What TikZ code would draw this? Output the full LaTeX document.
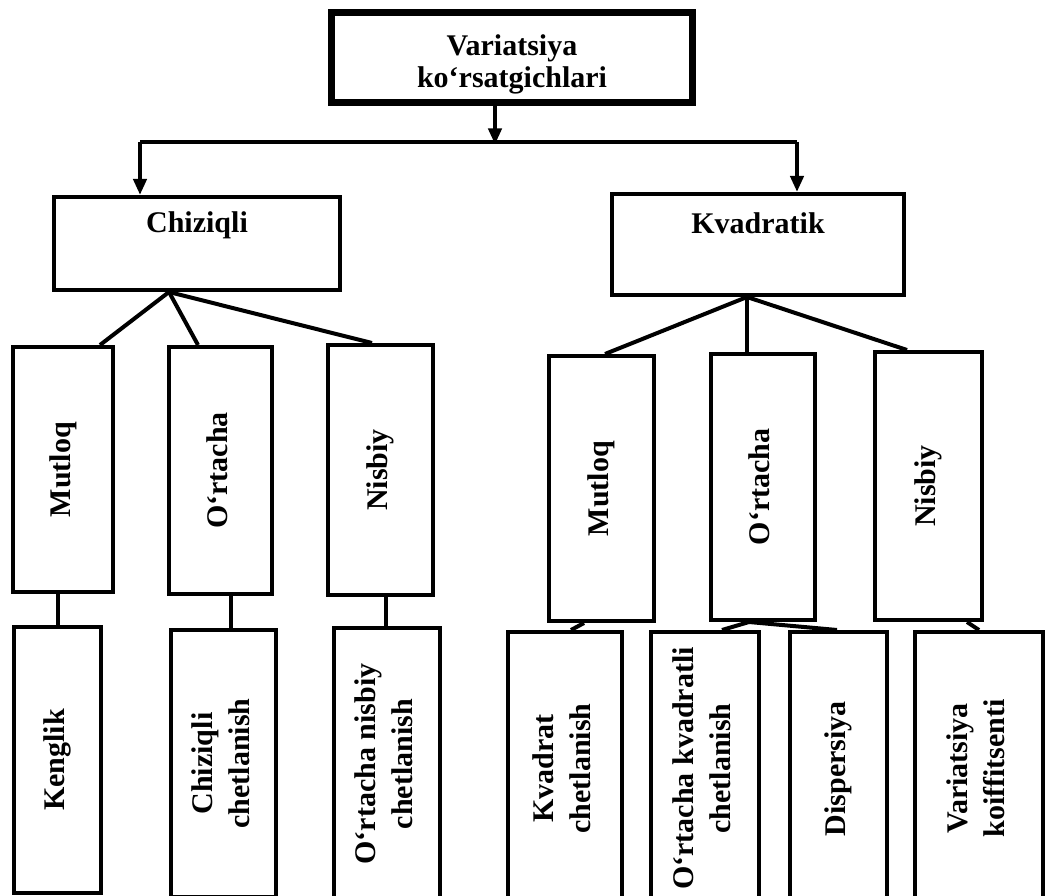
\documentclass[tikz,border=0pt]{standalone}
\usepackage{fontspec}
\setmainfont{Liberation Serif}
\usetikzlibrary{calc, arrows.meta}
\newcommand{\uptext}[1]{\rotatebox{90}{\begin{tabular}{@{}c@{}}#1\end{tabular}}}

\begin{document}
\begin{tikzpicture}[x=1pt, y=-1pt,
  box/.style={draw, line width=4pt, inner sep=0pt, font=\fontsize{30}{37}\selectfont\bfseries},
  head/.style={anchor=north, inner sep=0pt, font=\fontsize{30}{32}\selectfont\bfseries},
  link/.style={line width=4pt},
  arr/.style={line width=4pt, -{Triangle[length=16pt, width=13pt]}}]
\useasboundingbox (0,0) rectangle (1054,896);

%top box
\node[box, line width=7pt, minimum width=361pt, minimum height=90pt,
  label={[head, align=center, anchor=center, yshift=-6pt]center:Variatsiya\\ko‘rsatgichlari}] (var) at (512,58) {};

%the two kinds
\node[box, minimum width=286pt, minimum height=93pt,
  label={[head, yshift=-16pt]north:Chiziqli}] (chiz) at (197,243.5) {};
\node[box, minimum width=292pt, minimum height=101pt,
  label={[head, yshift=-20pt]north:Kvadratik}] (kvad) at (758,244.5) {};

%second row
\node[box, minimum width=100pt, minimum height=245pt] (mut1) at (63,469.5) {\uptext{Mutloq}};
\node[box, minimum width=103pt, minimum height=247pt] (ort1) at (220.5,470.5) {\uptext{O‘rtacha}};
\node[box, minimum width=105pt, minimum height=250pt] (nis1) at (380.5,470) {\uptext{Nisbiy}};
\node[box, minimum width=105pt, minimum height=265pt] (mut2) at (601,488.5) {\uptext{Mutloq}};
\node[box, minimum width=104pt, minimum height=266pt] (ort2) at (762.5,487) {\uptext{O‘rtacha}};
\node[box, minimum width=107pt, minimum height=268pt] (nis2) at (928.5,486) {\uptext{Nisbiy}};

%bottom row
\node[box, minimum width=87pt, minimum height=266pt] (keng) at (57.5,760) {\uptext{Kenglik}};
\node[box, minimum width=105pt, minimum height=267pt] (chch) at (223.5,763.5) {\uptext{Chiziqli\\chetlanish}};
\node[box, minimum width=106pt, minimum height=272pt] (onch) at (387,764) {\uptext{O‘rtacha nisbiy\\chetlanish}};
\node[box, minimum width=114pt, minimum height=273pt] (kvch) at (565,768.5) {\uptext{Kvadrat\\chetlanish}};
\node[box, minimum width=108pt, minimum height=273pt] (okch) at (704.5,768.5) {\uptext{O‘rtacha kvadratli\\chetlanish}};
\node[box, minimum width=97pt, minimum height=273pt] (disp) at (838.5,768.5) {\uptext{Dispersiya}};
\node[box, minimum width=128pt, minimum height=273pt] (vark) at (979,768.5) {\uptext{Variatsiya\\koiffitsenti}};

%the arrows
\coordinate (bus) at ($(var.south)+(-17,38)$);
\coordinate (busL) at ($(chiz.north)+(-57,-53)$);
\coordinate (busR) at (busL -| {$(kvad.north)+(39,0)$});
\draw[arr] (var.south -| bus) -- (bus);
\draw[link] (busL) -- (busR);
\draw[arr] (busL) -- (busL |- chiz.north);
\draw[arr] (busR) -- (busR |- kvad.north);

%lines from the kinds
\coordinate (chizj) at ($(chiz.south)+(-28,0)$);
\draw[link] (chizj) -- ($(mut1.north)+(37,0)$);
\draw[link] (chizj) -- ($(ort1.north)+(-22.5,0)$);
\draw[link] (chizj) -- ($(nis1.north)+(-8.5,0)$);
\coordinate (kvadj) at ($(kvad.south)+(-11,0)$);
\draw[link] (kvadj) -- ($(mut2.north)+(4,0)$);
\draw[link] (kvadj) -- ($(ort2.north)+(-15.5,0)$);
\draw[link] (kvadj) -- ($(nis2.north)+(-21.5,0)$);

%lines to the bottom row
\draw[link] (keng.north) -- (keng.north |- mut1.south);
\draw[link] ($(chch.north)+(7.5,0)$) -- ($(chch.north |- ort1.south)+(7.5,0)$);
\draw[link] ($(onch.north)+(-1,0)$) -- ($(onch.north |- nis1.south)+(-1,0)$);
\draw[link] ($(mut2.south)+(-17,0)$) -- ($(kvch.north)+(6,0)$);
\coordinate (ort2j) at ($(ort2.south)+(-13.5,0)$);
\draw[link] (ort2j) -- ($(okch.north)+(17.5,0)$);
\draw[link] (ort2j) -- ($(disp.north)+(-1.5,0)$);
\draw[link] ($(nis2.south)+(38.5,0)$) -- (vark.north);
\end{tikzpicture}
\end{document}
